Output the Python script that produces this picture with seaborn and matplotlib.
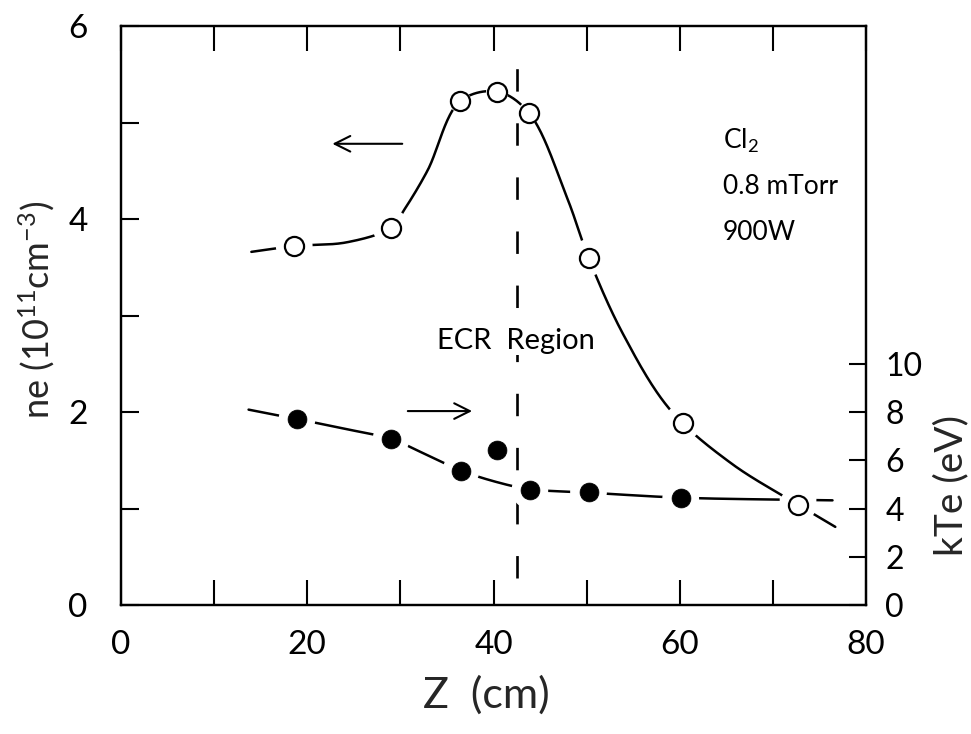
import numpy as np
import matplotlib
matplotlib.use("Agg")
import matplotlib.pyplot as plt
import seaborn as sns

# ---------------- data ----------------
# electron density n_e (10^11 cm^-3), open circles, left axis
z_ne = [18.6, 29.0, 36.4, 40.4, 43.8, 50.2, 60.3, 72.7]
ne = [3.72, 3.91, 5.22, 5.32, 5.10, 3.60, 1.89, 1.04]
# hand-drawn guide curve through the n_e points
ne_guide_z = [14.0, 18.6, 24.3, 29.0, 30.3, 32.9, 36.4, 40.4, 43.8, 47.9, 50.2, 53.9, 59.0, 65.5, 72.7, 76.7]
ne_guide = [3.66, 3.72, 3.76, 3.91, 4.08, 4.50, 5.22, 5.32, 5.10, 4.22, 3.60, 2.81, 2.02, 1.47, 1.04, 0.81]

# electron temperature kTe (eV), filled circles, right axis
z_te = [18.9, 29.0, 36.5, 40.4, 43.9, 50.2, 60.1, 72.7]
te = [7.71, 6.88, 5.57, 6.43, 4.75, 4.69, 4.42, 4.38]
te_guide_z = [13.7, 18.9, 24.1, 29.0, 32.7, 36.5, 41.0, 43.9, 50.2, 60.1, 72.7, 76.4]
te_guide = [8.10, 7.71, 7.30, 6.88, 6.25, 5.57, 5.03, 4.80, 4.66, 4.45, 4.36, 4.34]

ecr_z = 42.5
x_major = [0, 20, 40, 60, 80]
x_minor = [10, 30, 50, 70]
ne_major = [0, 2, 4, 6]
ne_minor = [1, 3, 5]
te_ticks = [0, 2, 4, 6, 8, 10]
notes = ["Cl$_2$", "0.8 mTorr", "900W"]

# white gap ("halo") sizes around each marker, in points^2 (style only)
ne_halo = [700, 700, 260, 260, 260, 700, 700, 700]
te_halo = [700, 700, 700, 0, 700, 700, 700, 700]


def smooth(xs, ys, sx, sy, n=40):
    """centripetal Catmull-Rom through hand-read guide points"""
    P = np.column_stack([np.asarray(xs) * sx, np.asarray(ys) * sy])
    P = np.vstack([2 * P[0] - P[1], P, 2 * P[-1] - P[-2]])
    out = []
    for i in range(1, len(P) - 2):
        p0, p1, p2, p3 = P[i - 1:i + 3]
        t0 = 0.0
        t1 = t0 + np.linalg.norm(p1 - p0) ** 0.5
        t2 = t1 + np.linalg.norm(p2 - p1) ** 0.5
        t3 = t2 + np.linalg.norm(p3 - p2) ** 0.5
        t = np.linspace(t1, t2, n)[:, None]
        A1 = (t1 - t) / (t1 - t0) * p0 + (t - t0) / (t1 - t0) * p1
        A2 = (t2 - t) / (t2 - t1) * p1 + (t - t1) / (t2 - t1) * p2
        A3 = (t3 - t) / (t3 - t2) * p2 + (t - t2) / (t3 - t2) * p3
        B1 = (t2 - t) / (t2 - t0) * A1 + (t - t0) / (t2 - t0) * A2
        B2 = (t3 - t) / (t3 - t1) * A2 + (t - t1) / (t3 - t1) * A3
        C = (t2 - t) / (t2 - t1) * B1 + (t - t1) / (t2 - t1) * B2
        out.append(C if i == 1 else C[1:])
    C = np.vstack(out)
    return C[:, 0] / sx, C[:, 1] / sy


sns.set_theme(style="white")
plt.rcParams["font.family"] = ["Lato", "DejaVu Sans"]
plt.rcParams["mathtext.fontset"] = "custom"
plt.rcParams["mathtext.rm"] = "Lato"
plt.rcParams["mathtext.it"] = "Lato"
plt.rcParams["text.color"] = "black"
plt.rcParams["axes.edgecolor"] = "black"

fig = plt.figure(figsize=(9.71, 7.34), dpi=100)
fig.patch.set_facecolor("white")
ax = fig.add_axes([0.1246, 0.1757, 0.7673, 0.7888])
ax2 = ax.twinx()
ax.set_zorder(ax2.get_zorder() + 1)
ax.patch.set_visible(False)
ax2.patch.set_visible(True)
ax2.patch.set_facecolor("white")

ax.set_xlim(0, 80)
ax.set_ylim(0, 6)
ax2.set_ylim(0, 24.0)

# ---- kTe (right axis, drawn underneath) ----
ax2.axvline(ecr_z, ymin=0.047, ymax=0.958, color="black", lw=1.9,
            linestyle=(0, (8.5, 12)), zorder=1)
gx, gy = smooth(te_guide_z, te_guide, 9.31, 24.1)
sns.lineplot(x=gx, y=gy, ax=ax2, sort=False, estimator=None, color="black", lw=1.8, zorder=2)
ax2.scatter(z_te, te, s=te_halo, color="white", linewidths=0, zorder=3)
sns.scatterplot(x=z_te, y=te, ax=ax2, s=185, color="black", edgecolor="black", linewidth=0.5, zorder=4)

# ---- ne (left axis, on top) ----
gx, gy = smooth(ne_guide_z, ne_guide, 9.31, 96.7)
sns.lineplot(x=gx, y=gy, ax=ax, sort=False, estimator=None, color="black", lw=1.8, zorder=2)
ax.scatter(z_ne, ne, s=ne_halo, color="white", linewidths=0, zorder=3)
sns.scatterplot(x=z_ne, y=ne, ax=ax, s=190, facecolor="white", edgecolor="black", linewidth=1.6, zorder=4)

# arrows
ax.annotate("", xy=(22.4, 4.78), xytext=(30.5, 4.78),
            arrowprops=dict(arrowstyle="->", lw=1.5, color="black", mutation_scale=28))
ax.annotate("", xy=(38.0, 2.01), xytext=(30.5, 2.01),
            arrowprops=dict(arrowstyle="->", lw=1.5, color="black", mutation_scale=28))

# texts
ax.text(33.9, 2.74, "ECR  Region", fontsize=21, ha="left", va="center", zorder=6,
        bbox=dict(facecolor="white", edgecolor="none", pad=1))
for yv, s in zip([4.81, 4.34, 3.86], notes):
    ax.text(64.6, yv, s, fontsize=19, ha="left", va="center")

# ticks
ax.set_xticks(x_major)
ax.set_xticks(x_minor, minor=True)
ax.set_xticklabels([str(v) for v in x_major])
ax.set_yticks(ne_major)
ax.set_yticks(ne_minor, minor=True)
ax.set_yticklabels([str(v) for v in ne_major])
ax.tick_params(axis="x", which="both", direction="in", length=18, width=1.5,
               top=True, bottom=True, labelsize=24, pad=18, colors="black")
ax.tick_params(axis="y", which="both", direction="in", length=13, width=1.5,
               left=True, right=False, labelsize=24, pad=24, colors="black")
ax2.set_yticks(te_ticks)
ax2.set_yticklabels([str(v) for v in te_ticks])
ax2.tick_params(axis="y", which="both", direction="in", length=12, width=1.5,
                right=True, left=False, labelsize=23, pad=14, colors="black")

for a in (ax, ax2):
    for sp in a.spines.values():
        sp.set_linewidth(1.6)
        sp.set_color("black")

# labels
ax.set_xlabel("Z  (cm)", fontsize=31)
ax.xaxis.label.set_va("center")
ax.xaxis.set_label_coords(0.49, -0.155)
ax.set_ylabel("ne (10$^{11}$cm$^{-3}$)", fontsize=26)
ax.yaxis.label.set_va("center")
ax.yaxis.set_label_coords(-0.113, 0.51)
ax2.set_ylabel("kTe (eV)", fontsize=28, rotation=90)
ax2.yaxis.label.set_va("center")
ax2.yaxis.set_label_coords(1.114, 0.207)

fig.savefig("out.png", dpi=100, facecolor="white")
